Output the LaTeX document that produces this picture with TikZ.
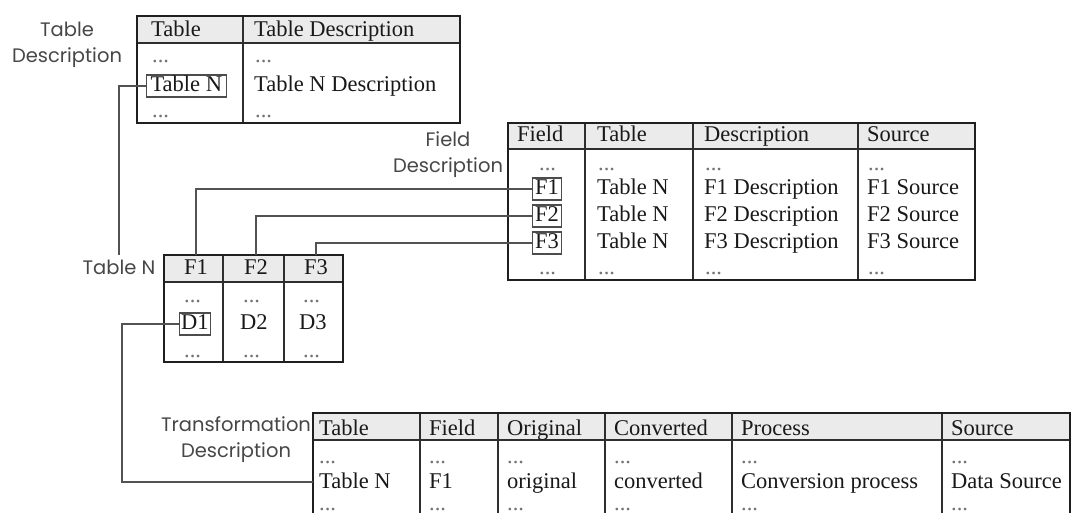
\documentclass[tikz,border=0pt]{standalone}
\usepackage{fontspec}
\setmainfont{Liberation Serif}
\newfontfamily\labelfont{Poppins}
\begin{document}
\begin{tikzpicture}[x=1pt,y=-1pt,
  cell/.style={anchor=base west, inner sep=0pt, font=\fontsize{22.5}{25}\selectfont, text=black!90},
  dots/.style={cell, text=black!55, text height=4pt, text depth=0pt},
  hdr/.style={inner sep=0pt, font=\fontsize{22.5}{25}\selectfont, text=black!90, text height=15pt, text depth=3pt},
  keybox/.style={cell, draw=black!70, line width=1.1pt, inner xsep=2.5pt, inner ysep=2pt, text height=15pt, text depth=3pt},
  lbl/.style={anchor=base, inner sep=0pt, font=\labelfont\fontsize{19.5}{26}\selectfont, text=black!72, align=center},
  headfill/.style={fill=black!8},
  frame/.style={draw=black!88, line width=2.4pt},
  rule/.style={draw=black!82, line width=1.5pt},
  link/.style={draw=black!68, line width=1.2pt}]
\clip (0,0) rectangle (1072,513);
\fill[white] (0,0) rectangle (1072,513);

% ---------- table description ----------
\fill[headfill] (137,16) rectangle (460,43);
\draw[rule] (137,43) -- (460,43) (243,16) -- (243,123);
\draw[frame] (137,16) rectangle (460,123);
\node[cell] (td-h1) at (151,37) {Table};
\node[cell] (td-h2) at (254,37) {Table Description};
\node[dots] (td-d1) at (152,63) {...};
\node[keybox, inner xsep=4pt] (tnkey) at (146,92) {Table N};
\node[dots] (td-d2) at (152,118) {...};
\node[dots] (td-e1) at (255,63) {...};
\node[cell] (td-e2) at (254,92) {Table N Description};
\node[dots] (td-e3) at (255,118) {...};
\node[lbl] (lblTD) at (67,63) {Table\\Description};

% ---------- field description ----------
\fill[headfill] (508,123) rectangle (975,149);
\draw[rule] (508,149) -- (975,149) (585,123) -- (585,280) (693,123) -- (693,280) (858,123) -- (858,280);
\draw[frame] (508,123) rectangle (975,280);
\node[cell] (fd-h1) at (517,142) {Field};
\node[cell] (fd-h2) at (597,142) {Table};
\node[cell] (fd-h3) at (704,142) {Description};
\node[cell] (fd-h4) at (867,142) {Source};
\node[dots] (fd-a0) at (539,171) {...};
\node[keybox] (f1) at (532,195) {F1};
\node[keybox] (f2) at (532,222) {F2};
\node[keybox] (f3) at (532,249) {F3};
\node[dots] (fd-a4) at (539,275) {...};
\node[dots] (fd-b0) at (598,171) {...};
\node[cell] (fd-b1) at (597,195) {Table N};
\node[cell] (fd-b2) at (597,222) {Table N};
\node[cell] (fd-b3) at (597,249) {Table N};
\node[dots] (fd-b4) at (598,275) {...};
\node[dots] (fd-c0) at (705,171) {...};
\node[cell] (fd-c1) at (704,195) {F1 Description};
\node[cell] (fd-c2) at (704,222) {F2 Description};
\node[cell] (fd-c3) at (704,249) {F3 Description};
\node[dots] (fd-c4) at (705,275) {...};
\node[dots] (fd-d0) at (868,171) {...};
\node[cell] (fd-d1) at (867,195) {F1 Source};
\node[cell] (fd-d2) at (867,222) {F2 Source};
\node[cell] (fd-d3) at (867,249) {F3 Source};
\node[dots] (fd-d4) at (868,275) {...};
\node[lbl] (lblFD) at (448,173) {Field\\Description};

% ---------- table N ----------
\fill[headfill] (164,255) rectangle (343,282);
\draw[rule] (164,282) -- (343,282) (223,255) -- (223,362) (284,255) -- (284,362);
\draw[frame] (164,255) rectangle (343,362);
\node[hdr, minimum height=27pt] (h1) at (196,268.5) {F1};
\node[hdr, minimum height=27pt] (h2) at (256,268.5) {F2};
\node[hdr, minimum height=27pt] (h3) at (316,268.5) {F3};
\node[dots] (tn-a0) at (184,303) {...};
\node[keybox, inner xsep=1.5pt] (d1) at (179,330) {D1};
\node[dots] (tn-a2) at (184,357) {...};
\node[dots] (tn-b0) at (243,303) {...};
\node[cell] (d2) at (240,330) {D2};
\node[dots] (tn-b2) at (243,357) {...};
\node[dots] (tn-c0) at (303,303) {...};
\node[cell] (d3) at (299,330) {D3};
\node[dots] (tn-c2) at (303,357) {...};
\node[lbl] (lblTN) at (119,275) {Table N};

% ---------- transformation description ----------
\fill[headfill] (313,413) rectangle (1070,440);
\draw[rule] (313,440) -- (1070,440) (420,413) -- (420,560) (498,413) -- (498,560)
  (605,413) -- (605,560) (732,413) -- (732,560) (942,413) -- (942,560);
\draw[frame] (313,413) rectangle (1070,560);
\foreach \x/\h/\v [count=\i] in {319/Table/Table N, 429/Field/F1, 507/Original/original,
    614/Converted/converted, 741/Process/Conversion process, 951/Source/Data Source}{
  \node[cell] (tr-h\i) at (\x,435) {\h};
  \node[dots] (tr-a\i) at (\x,463) {...};
  \node[cell] (tr-b\i) at (\x,488) {\v};
  \node[dots] (tr-c\i) at (\x,510) {...};
}
\coordinate (trin) at (313,482);
\node[lbl] (lblTR) at (236,457) {Transformation\\Description};

% ---------- connectors ----------
\draw[link] (tnkey.west) -| ([yshift=5pt]lblTN.north);
\draw[link] (h1.north) |- (f1.west);
\draw[link] (h2.north) |- (f2.west);
\draw[link] (h3.north) |- (f3.west);
\draw[link] (d1.west) -- ++(-57,0) |- (trin);
\end{tikzpicture}
\end{document}
